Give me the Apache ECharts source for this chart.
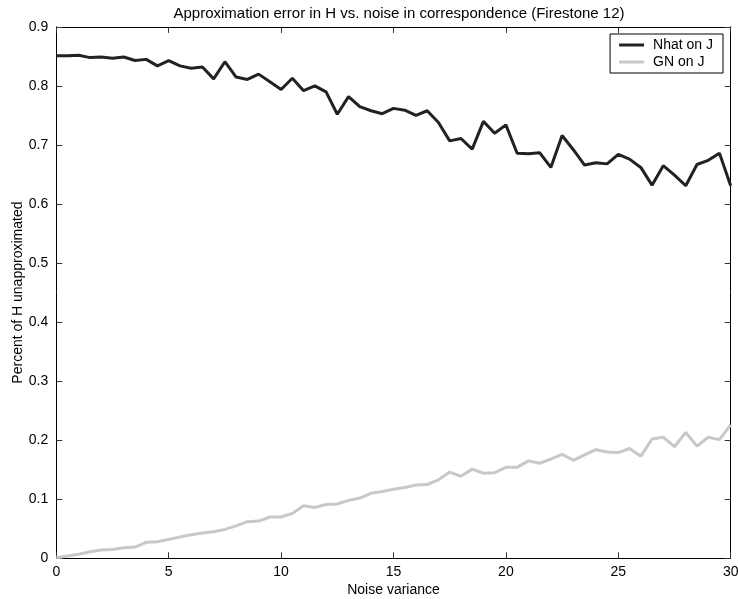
<!DOCTYPE html>
<html>
<head>
<meta charset="utf-8">
<script src="https://cdn.jsdelivr.net/npm/echarts@6/dist/echarts.min.js"></script>
<style>
html,body{margin:0;padding:0;background:#fff;}
#chart{width:738px;height:599px;}
</style>
</head>
<body>
<div id="chart"></div>
<script>
const noiseVariance = [0,0.5,1,1.5,2,2.5,3,3.5,4,4.5,5,5.5,6,6.5,7,7.5,8,8.5,9,9.5,10,10.5,11,11.5,12,12.5,13,13.5,14,14.5,15,15.5,16,16.5,17,17.5,18,18.5,19,19.5,20,20.5,21,21.5,22,22.5,23,23.5,24,24.5,25,25.5,26,26.5,27,27.5,28,28.5,29,29.5,30];
const nhatOnJ = [0.851,0.851,0.852,0.848,0.849,0.847,0.849,0.843,0.845,0.834,0.843,0.834,0.830,0.832,0.812,0.841,0.815,0.811,0.820,0.807,0.794,0.813,0.792,0.800,0.790,0.752,0.782,0.765,0.758,0.753,0.762,0.759,0.750,0.758,0.738,0.707,0.711,0.693,0.740,0.720,0.734,0.686,0.685,0.687,0.662,0.716,0.692,0.666,0.670,0.668,0.684,0.676,0.662,0.632,0.665,0.649,0.631,0.667,0.674,0.686,0.631];
const gnOnJ = [0.001,0.004,0.007,0.011,0.014,0.015,0.018,0.019,0.027,0.028,0.032,0.036,0.040,0.043,0.045,0.049,0.055,0.062,0.063,0.070,0.070,0.076,0.089,0.086,0.091,0.092,0.098,0.102,0.110,0.113,0.117,0.120,0.124,0.125,0.133,0.146,0.139,0.151,0.144,0.145,0.154,0.154,0.165,0.161,0.168,0.176,0.166,0.175,0.184,0.180,0.179,0.186,0.173,0.202,0.205,0.189,0.213,0.190,0.205,0.201,0.226];
const xTicks = {min:0, max:30, interval:5};
const yTicks = {min:0, max:0.9, interval:0.1};

const FONT = "'Liberation Sans', Arial, Helvetica, sans-serif";
const chart = echarts.init(document.getElementById('chart'), null, {renderer:'canvas'});
const pairs = arr => noiseVariance.map((x,i)=>[x, arr[i]]);
const axisCommon = {
  axisLine:{show:true, onZero:false, lineStyle:{color:'#000', width:1}},
  axisTick:{show:true, inside:true, length:6, lineStyle:{color:'#333', width:1}},
  splitLine:{show:false}
};
chart.setOption({
  animation:false,
  backgroundColor:'#fff',
  textStyle:{fontFamily:FONT},
  title:{
    text:'Approximation error in H vs. noise in correspondence (Firestone 12)',
    left:394, textAlign:'center', top:1,
    textStyle:{fontFamily:FONT, fontSize:15, fontWeight:'normal', color:'#000'}
  },
  legend:{
    orient:'vertical', right:15, top:34,
    backgroundColor:'#fff', borderColor:'#000', borderWidth:1,
    padding:[4,10,4,9], itemGap:3, itemWidth:25, itemHeight:3, icon:'rect',
    textStyle:{fontFamily:FONT, fontSize:14, color:'#000', padding:[0,0,0,4]},
    data:['Nhat on J','GN on J']
  },
  grid:{left:56.3, right:7.3, top:26.9, bottom:40.7, containLabel:false, outerBoundsMode:'none'},
  xAxis:[
    Object.assign({type:'value', position:'bottom', min:xTicks.min, max:xTicks.max, interval:xTicks.interval,
      name:'Noise variance', nameLocation:'middle', nameGap:25, nameMoveOverlap:false,
      nameTextStyle:{fontFamily:FONT, fontSize:14, color:'#000'},
      axisLabel:{fontFamily:FONT, fontSize:14, color:'#000', margin:7}}, axisCommon),
    Object.assign({type:'value', position:'top', min:xTicks.min, max:xTicks.max, interval:xTicks.interval,
      axisLabel:{show:false}}, axisCommon)
  ],
  yAxis:[
    Object.assign({type:'value', position:'left', min:yTicks.min, max:yTicks.max, interval:yTicks.interval,
      name:'Percent of H unapproximated', nameLocation:'middle', nameGap:31, nameMoveOverlap:false,
      nameTextStyle:{fontFamily:FONT, fontSize:14, color:'#000'},
      axisLabel:{fontFamily:FONT, fontSize:14, color:'#000', margin:8}}, axisCommon),
    Object.assign({type:'value', position:'right', min:yTicks.min, max:yTicks.max, interval:yTicks.interval,
      axisLabel:{show:false}}, axisCommon)
  ],
  series:[
    {name:'Nhat on J', type:'line', data:pairs(nhatOnJ), showSymbol:false, symbol:'none',
     lineStyle:{color:'#222', width:3}, itemStyle:{color:'#222'}, z:3},
    {name:'GN on J', type:'line', data:pairs(gnOnJ), showSymbol:false, symbol:'none',
     lineStyle:{color:'#c8c8c8', width:3}, itemStyle:{color:'#c8c8c8'}, z:2}
  ]
});
</script>
</body>
</html>
